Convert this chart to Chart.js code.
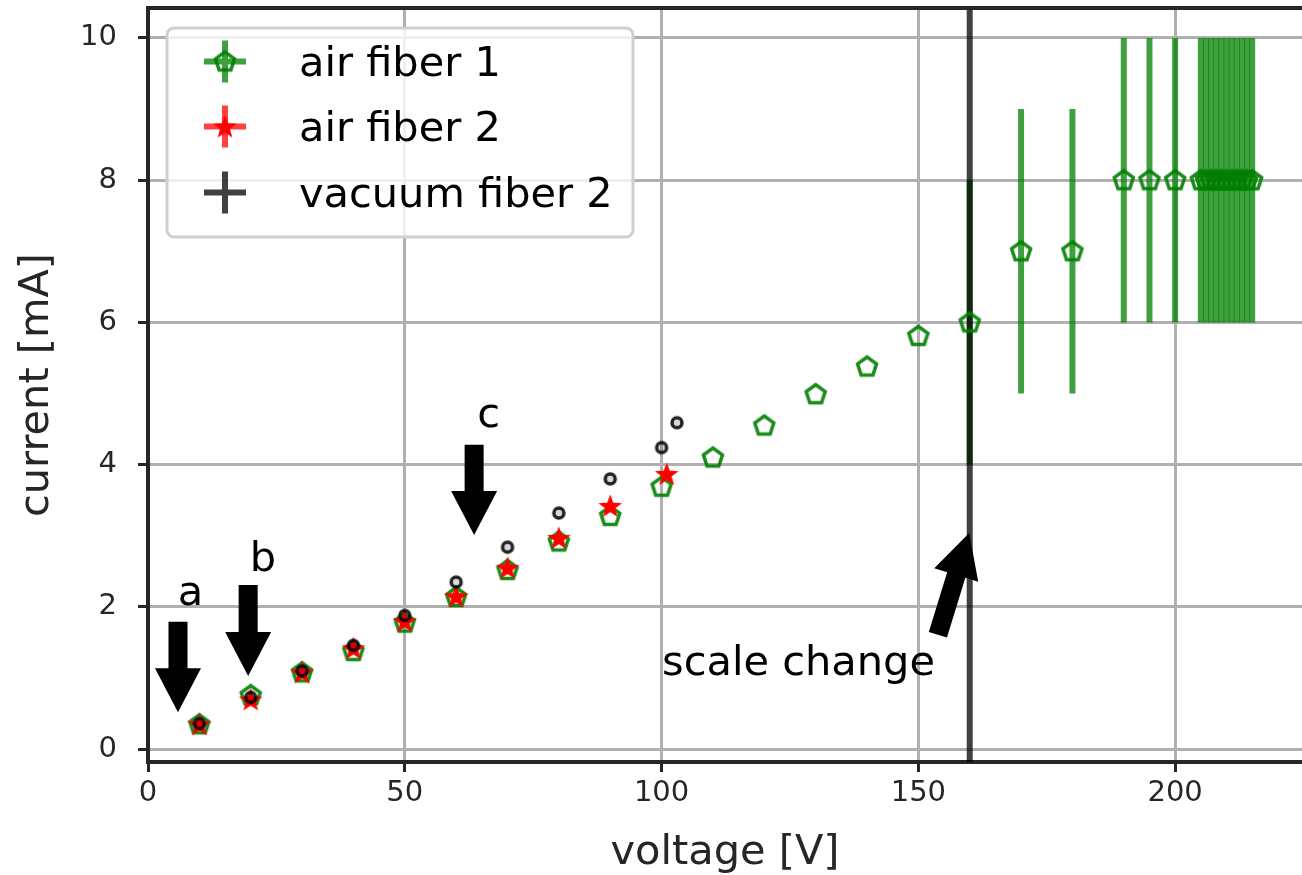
<!DOCTYPE html>
<html>
<head>
<meta charset="utf-8">
<script src="https://cdn.jsdelivr.net/npm/chart.js@4.4.1/dist/chart.umd.min.js"></script>
<style>
  html, body { margin: 0; padding: 0; background: #fff; overflow: hidden; }
  #wrap { width: 1302px; height: 875px; }
  canvas { display: block; }
</style>
</head>
<body>
<div id="wrap"><canvas id="grafica" width="1302" height="875"></canvas></div>
<script>
// Datos
var greenV = [10, 20, 30, 40, 50, 60, 70, 80, 90, 100, 110, 120, 130, 140, 150, 160, 170, 180, 190, 195, 200,
              205, 206, 207, 208, 209, 210, 211, 212, 213, 214, 215];
var greenI = [0.35, 0.76, 1.08, 1.38, 1.78, 2.14, 2.52, 2.92, 3.28, 3.69, 4.1, 4.55, 4.99, 5.38, 5.81, 6.0, 7, 7, 8, 8, 8,
              8, 8, 8, 8, 8, 8, 8, 8, 8, 8, 8];
var greenErr = [0, 0, 0, 0, 0, 0, 0, 0, 0, 0, 0, 0, 0, 0, 0, 2, 2, 2, 2, 2, 2,
                2, 2, 2, 2, 2, 2, 2, 2, 2, 2, 2];

var redV = [10, 20, 30, 40, 50, 60, 70, 80, 90, 101];
var redI = [0.35, 0.7, 1.08, 1.42, 1.8, 2.15, 2.55, 2.97, 3.42, 3.87];

var blackV = [10, 20, 30, 40, 50, 60, 70, 80, 90, 100, 103];
var blackI = [0.36, 0.73, 1.1, 1.46, 1.88, 2.35, 2.84, 3.32, 3.8, 4.24, 4.59];

var seriesLabels = ['air fiber 1', 'air fiber 2', 'vacuum fiber 2'];
var scaleChangeV = 160;

var xTicks = [0, 50, 100, 150, 200];
var yTicks = [0, 2, 4, 6, 8, 10];
var xMin = 0, xMax = 224.7;
var yMin = -0.18, yMax = 10.42;

// Anotaciones (texto y flecha, en unidades de los datos)
var notas = [
    { text: 'a', tx: 5.8, ty: 2.03, from: [5.84, 1.79], to: [5.84, 0.52] },
    { text: 'b', tx: 19.8, ty: 2.5, from: [19.5, 2.31], to: [19.5, 1.03] },
    { text: 'c', tx: 64.1, ty: 4.53, from: [63.5, 4.28], to: [63.5, 3.01] },
    { text: 'scale change', tx: 100.1, ty: 1.04, from: [153.8, 1.61], to: [159.9, 3.04] }
];

var FUENTE = 'DejaVu Sans';

function juntar(xs, ys) {
    return xs.map(function (v, i) { return { x: v, y: ys[i] }; });
}

// Marcadores dibujados en canvas aparte
function hacerPentagono() {
    var c = document.createElement('canvas');
    c.width = 30; c.height = 30;
    var ctx = c.getContext('2d');
    ctx.beginPath();
    for (var k = 0; k < 5; k++) {
        var ang = -Math.PI / 2 + k * 2 * Math.PI / 5;
        var px = 15 + 10 * Math.cos(ang), py = 15.5 + 10 * Math.sin(ang);
        if (k === 0) ctx.moveTo(px, py); else ctx.lineTo(px, py);
    }
    ctx.closePath();
    ctx.lineWidth = 3.5;
    ctx.strokeStyle = 'rgba(0,128,0,0.9)';
    ctx.stroke();
    return c;
}

function hacerEstrella() {
    var c = document.createElement('canvas');
    c.width = 30; c.height = 30;
    var ctx = c.getContext('2d');
    ctx.beginPath();
    for (var k = 0; k < 10; k++) {
        var r = (k % 2 === 0) ? 12.5 : 5.2;
        var ang = -Math.PI / 2 + k * Math.PI / 5;
        var px = 15 + r * Math.cos(ang), py = 16 + r * Math.sin(ang);
        if (k === 0) ctx.moveTo(px, py); else ctx.lineTo(px, py);
    }
    ctx.closePath();
    ctx.fillStyle = '#ff0000';
    ctx.fill();
    return c;
}

function hacerCirculo() {
    var c = document.createElement('canvas');
    c.width = 18; c.height = 18;
    var ctx = c.getContext('2d');
    ctx.beginPath();
    ctx.arc(9, 9, 5, 0, Math.PI * 2);
    ctx.fillStyle = 'rgba(0,0,0,0.15)';
    ctx.fill();
    ctx.lineWidth = 3.5;
    ctx.strokeStyle = 'rgba(0,0,0,0.85)';
    ctx.stroke();
    return c;
}

var marcaVerde = hacerPentagono();
var marcaRoja = hacerEstrella();
var marcaNegra = hacerCirculo();

// Barras de error verticales
var pluginBarras = {
    id: 'barrasError',
    beforeDatasetsDraw: function (chart) {
        var ctx = chart.ctx, sx = chart.scales.x, sy = chart.scales.y;
        chart.data.datasets.forEach(function (ds) {
            if (!ds.errY) return;
            ctx.save();
            ctx.strokeStyle = ds.errColor;
            ctx.lineWidth = 6;
            ds.data.forEach(function (p, i) {
                var e = ds.errY[i];
                if (!e) return;
                var px = sx.getPixelForValue(p.x);
                ctx.beginPath();
                ctx.moveTo(px, sy.getPixelForValue(p.y - e));
                ctx.lineTo(px, sy.getPixelForValue(p.y + e));
                ctx.stroke();
            });
            ctx.restore();
        });
    }
};

function flecha(ctx, x0, y0, x1, y1) {
    var dx = x1 - x0, dy = y1 - y0, L = Math.hypot(dx, dy);
    var ux = dx / L, uy = dy / L, nx = -uy, ny = ux;
    var hw = 23, sw = 9.5, hl = 44;
    var bx = x1 - ux * hl, by = y1 - uy * hl;
    ctx.beginPath();
    ctx.moveTo(x0 + nx * sw, y0 + ny * sw);
    ctx.lineTo(bx + nx * sw, by + ny * sw);
    ctx.lineTo(bx + nx * hw, by + ny * hw);
    ctx.lineTo(x1, y1);
    ctx.lineTo(bx - nx * hw, by - ny * hw);
    ctx.lineTo(bx - nx * sw, by - ny * sw);
    ctx.lineTo(x0 - nx * sw, y0 - ny * sw);
    ctx.closePath();
    ctx.fillStyle = '#000';
    ctx.fill();
}

// Borde superior, anotaciones y leyenda
var pluginExtras = {
    id: 'extras',
    afterDraw: function (chart) {
        var ctx = chart.ctx, sx = chart.scales.x, sy = chart.scales.y, a = chart.chartArea;
        ctx.save();
        ctx.strokeStyle = '#262626';
        ctx.lineWidth = 4;
        ctx.beginPath();
        ctx.moveTo(a.left - 2, a.top);
        ctx.lineTo(a.right, a.top);
        ctx.stroke();

        // anotaciones
        ctx.font = '41.5px "' + FUENTE + '"';
        ctx.fillStyle = '#000';
        ctx.textBaseline = 'alphabetic';
        ctx.textAlign = 'left';
        notas.forEach(function (n) {
            ctx.fillText(n.text, sx.getPixelForValue(n.tx), sy.getPixelForValue(n.ty));
            flecha(ctx, sx.getPixelForValue(n.from[0]), sy.getPixelForValue(n.from[1]),
                sx.getPixelForValue(n.to[0]), sy.getPixelForValue(n.to[1]));
        });

        // leyenda
        var lx = 167, ly = 28, lw = 466, lh = 209;
        ctx.beginPath();
        ctx.roundRect(lx, ly, lw, lh, 7);
        ctx.fillStyle = 'rgba(255,255,255,0.8)';
        ctx.fill();
        ctx.lineWidth = 3;
        ctx.strokeStyle = '#d0d0d0';
        ctx.stroke();

        var filas = [76, 141, 207];
        chart.data.datasets.forEach(function (ds, i) {
            if (!ds.enLeyenda) return;
            var cy = filas[i] - 14.5, cx = 225;
            ctx.strokeStyle = ds.errColor;
            ctx.lineWidth = 6;
            ctx.beginPath();
            ctx.moveTo(cx - 21, cy); ctx.lineTo(cx + 21, cy);
            ctx.moveTo(cx, cy - 21); ctx.lineTo(cx, cy + 21);
            ctx.stroke();
            if (ds.marcaLeyenda) {
                var m = ds.marcaLeyenda;
                ctx.drawImage(m, cx - m.width / 2, cy - m.height / 2);
            }
            ctx.fillStyle = '#000';
            ctx.fillText(ds.label, 299, filas[i]);
        });
        ctx.restore();
    }
};

// quitar el relleno que Chart.js deja para las etiquetas de los extremos
function sinRelleno(s) {
    s.paddingTop = 0; s.paddingBottom = 0; s.paddingLeft = 0; s.paddingRight = 0;
}

var ejeFuente = { family: FUENTE, size: 29 };
var tituloFuente = { family: FUENTE, size: 41.5 };

var grafica = new Chart(document.getElementById('grafica').getContext('2d'), {
    type: 'scatter',
    data: {
        datasets: [{
            label: seriesLabels[0],
            data: juntar(greenV, greenI),
            pointStyle: marcaVerde,
            pointRadius: 8,
            errY: greenErr,
            errColor: 'rgba(0,128,0,0.75)',
            enLeyenda: true,
            marcaLeyenda: marcaVerde,
            order: 3
        }, {
            label: seriesLabels[1],
            data: juntar(redV, redI),
            pointStyle: marcaRoja,
            pointRadius: 8,
            errColor: 'rgba(255,0,0,0.75)',
            enLeyenda: true,
            marcaLeyenda: marcaRoja,
            order: 2
        }, {
            label: seriesLabels[2],
            data: juntar(blackV, blackI),
            pointStyle: marcaNegra,
            pointRadius: 6,
            errColor: 'rgba(0,0,0,0.75)',
            enLeyenda: true,
            order: 1
        }, {
            label: 'scale change',
            data: [{ x: scaleChangeV, y: yMin }, { x: scaleChangeV, y: yMax }],
            showLine: true,
            borderColor: 'rgba(0,0,0,0.75)',
            borderWidth: 6,
            pointRadius: 0,
            enLeyenda: false,
            order: 4
        }]
    },
    options: {
        responsive: false,
        animation: false,
        devicePixelRatio: 1,
        layout: { autoPadding: false, padding: { top: 8, left: 0, right: 0, bottom: 0 } },
        plugins: { legend: { display: false }, tooltip: { enabled: false } },
        scales: {
            x: {
                type: 'linear',
                min: xMin,
                max: xMax,
                afterFit: function (s) { s.height = 113; sinRelleno(s); },
                afterBuildTicks: function (s) { s.ticks = xTicks.map(function (v) { return { value: v }; }); },
                grid: { color: '#b0b0b0', lineWidth: 3, tickColor: '#262626', tickWidth: 3, tickLength: 10 },
                border: { color: '#262626', width: 4 },
                ticks: { font: ejeFuente, color: '#262626', padding: 4, maxRotation: 0 },
                title: { display: true, text: 'voltage [V]', font: tituloFuente, color: '#262626', padding: { top: 0, bottom: -3 } }
            },
            y: {
                type: 'linear',
                min: yMin,
                max: yMax,
                afterFit: function (s) { s.width = 148; sinRelleno(s); },
                afterBuildTicks: function (s) { s.ticks = yTicks.map(function (v) { return { value: v }; }); },
                grid: { color: '#b0b0b0', lineWidth: 3, tickColor: '#262626', tickWidth: 3, tickLength: 10 },
                border: { color: '#262626', width: 4 },
                ticks: { font: ejeFuente, color: '#262626', padding: 21 },
                title: { display: true, text: 'current [mA]', font: tituloFuente, color: '#262626', padding: { top: 12, bottom: 0 } }
            }
        }
    },
    plugins: [pluginBarras, pluginExtras]
});
</script>
</body>
</html>
